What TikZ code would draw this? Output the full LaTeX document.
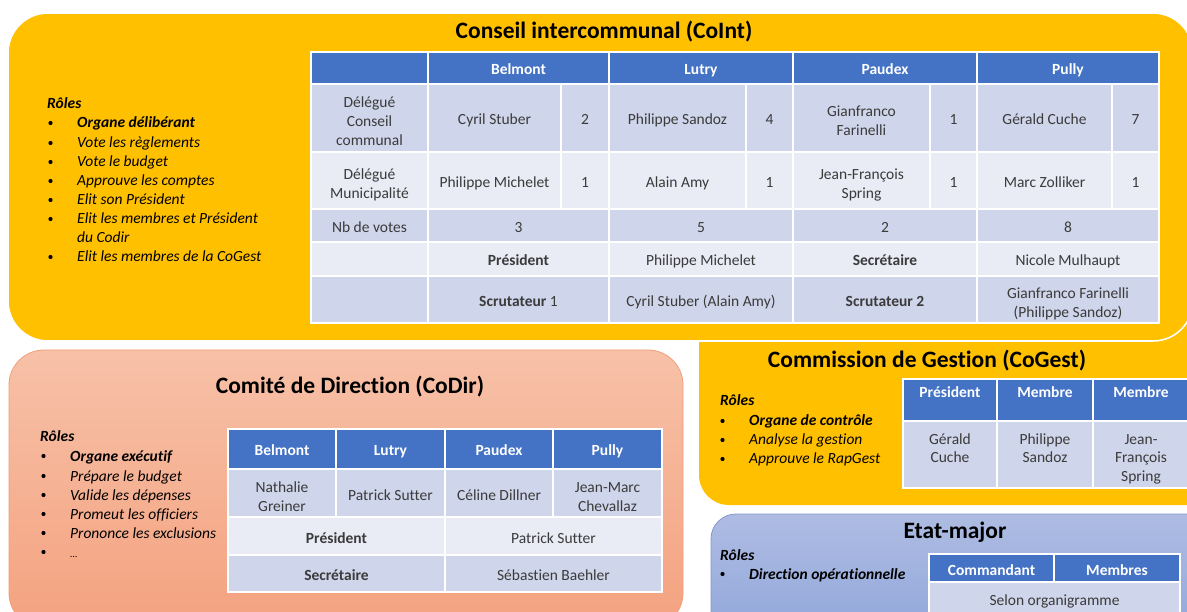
\documentclass[tikz,border=0pt]{standalone}
\usepackage{fontspec}
\setmainfont{Carlito}[Ligatures=NoCommon]
\definecolor{cyel}{HTML}{FFC000}
\definecolor{hblue}{HTML}{4472C4}
\definecolor{dkrow}{HTML}{CFD5EA}
\definecolor{ltrow}{HTML}{E9EBF5}
\definecolor{cdtop}{HTML}{F7C1A8}
\definecolor{cdbot}{HTML}{F4A27F}
\definecolor{cddraw}{HTML}{F19E78}
\definecolor{emtop}{HTML}{AEBCE3}
\definecolor{embot}{HTML}{8EA5D9}
\definecolor{emdraw}{HTML}{8497CF}
\definecolor{tgray}{HTML}{3B3B3B}
\newcommand{\cstrut}{\rule[-3pt]{0pt}{20pt}}
\newcommand{\mlbeg}{\rule{0pt}{20pt}}
\tikzset{
  cellbase/.style={draw=white, line width=1.5pt, inner sep=0pt, outer sep=0pt, align=center, text=tgray, font=\fontsize{15.5}{19}\selectfont, execute at begin node=\cstrut, execute at end node=\cstrut},
  hd/.style={cellbase, fill=hblue, text=white, font=\bfseries\fontsize{15.5}{19}\selectfont},
  hdtop/.style={hd, text height=19pt, text depth=23pt, execute at begin node={}, execute at end node={}},
  dk/.style={cellbase, fill=dkrow},
  lt/.style={cellbase, fill=ltrow},
  boxtitle/.style={font=\bfseries\fontsize{23.5}{28}\selectfont, text=black, inner sep=0pt},
  roletxt/.style={anchor=base west, inner sep=0pt, font=\itshape\fontsize{15.5}{19}\selectfont, text=black},
  rolehead/.style={roletxt, font=\bfseries\itshape\fontsize{15.5}{19}\selectfont},
  bul/.style={circle, fill=black, inner sep=0pt, minimum size=4.2pt},
  yelbox/.style={fill=cyel, rounded corners=40pt},
  cdbox/.style={top color=cdtop, bottom color=cdbot, draw=cddraw, line width=0.8pt, rounded corners=35pt},
  embox/.style={top color=emtop, bottom color=embot, draw=emdraw, line width=0.8pt, rounded corners=25pt},
}
% cell: style, x1, y1, x2, y2, name, text
\newcommand{\cel}[7]{\node[#1, minimum width={(#4)-(#2)}, minimum height={(#5)-(#3)}, anchor=north west] (#6) at (#2,#3) {#7};}
% role line: name, xbullet, xtext, baseline y, style, text
\newcommand{\rl}[6]{\node[bul] (#1b) at ({#2+1.5},{#4-5}) {};\node[#5] (#1) at (#3,#4) {#6};}
\begin{document}
\begin{tikzpicture}[x=1pt, y=-1pt]
\useasboundingbox (0,0) rectangle (1187,612);
\clip (0,0) rectangle (1187,612);
\fill[white] (0,0) rectangle (1187,612);

% ---------- boxes ----------
\path[yelbox, rounded corners=30pt] (699,290) rectangle (1230,505);
\path[yelbox, draw=white, line width=1.6pt] (8,13) rectangle (1193,341);
\path[cdbox] (9,350) rectangle (683,628);
\path[embox] (711,514) rectangle (1215,650);

% ---------- Conseil intercommunal ----------
\node[boxtitle] (t1) at (604,32) {Conseil intercommunal (CoInt)};

\node[rolehead] (r1h) at (47,109) {Rôles};
\rl{r1a}{49}{77}{128}{rolehead}{Organe délibérant}
\rl{r1b}{49}{77}{148}{roletxt}{Vote les règlements}
\rl{r1c}{49}{77}{167}{roletxt}{Vote le budget}
\rl{r1d}{49}{77}{186}{roletxt}{Approuve les comptes}
\rl{r1e}{49}{77}{205}{roletxt}{Elit son Président}
\rl{r1f}{49}{77}{224}{roletxt}{Elit les membres et Président}
\node[roletxt] (r1f2) at (77,243) {du Codir};
\rl{r1g}{49}{77}{262}{roletxt}{Elit les membres de la CoGest}

% header
\cel{hd}{311}{52}{428}{84}{h0}{}
\cel{hd}{428}{52}{609}{84}{h1}{Belmont}
\cel{hd}{609}{52}{793}{84}{h2}{Lutry}
\cel{hd}{793}{52}{977}{84}{h3}{Paudex}
\cel{hd}{977}{52}{1159}{84}{h4}{Pully}
% row 1
\cel{dk}{311}{84}{428}{152}{a0}{\mlbeg Délégué\\Conseil\\communal}
\cel{dk}{428}{84}{561}{152}{a1}{Cyril Stuber}
\cel{dk}{561}{84}{609}{152}{a1n}{2}
\cel{dk}{609}{84}{746}{152}{a2}{Philippe Sandoz}
\cel{dk}{746}{84}{793}{152}{a2n}{4}
\cel{dk}{793}{84}{930}{152}{a3}{\mlbeg Gianfranco\\Farinelli}
\cel{dk}{930}{84}{977}{152}{a3n}{1}
\cel{dk}{977}{84}{1112}{152}{a4}{Gérald Cuche}
\cel{dk}{1112}{84}{1159}{152}{a4n}{7}
% row 2
\cel{lt}{311}{152}{428}{209}{b0}{\mlbeg Délégué\\Municipalité}
\cel{lt}{428}{152}{561}{209}{b1}{Philippe Michelet}
\cel{lt}{561}{152}{609}{209}{b1n}{1}
\cel{lt}{609}{152}{746}{209}{b2}{Alain Amy}
\cel{lt}{746}{152}{793}{209}{b2n}{1}
\cel{lt}{793}{152}{930}{209}{b3}{\mlbeg Jean-François\\Spring}
\cel{lt}{930}{152}{977}{209}{b3n}{1}
\cel{lt}{977}{152}{1112}{209}{b4}{Marc Zolliker}
\cel{lt}{1112}{152}{1159}{209}{b4n}{1}
% row 3
\cel{dk}{311}{209}{428}{242}{c0}{Nb de votes}
\cel{dk}{428}{209}{609}{242}{c1}{3}
\cel{dk}{609}{209}{793}{242}{c2}{5}
\cel{dk}{793}{209}{977}{242}{c3}{2}
\cel{dk}{977}{209}{1159}{242}{c4}{8}
% row 4
\cel{lt}{311}{242}{428}{276}{d0}{}
\cel{lt}{428}{242}{609}{276}{d1}{\textbf{Président}}
\cel{lt}{609}{242}{793}{276}{d2}{Philippe Michelet}
\cel{lt}{793}{242}{977}{276}{d3}{\textbf{Secrétaire}}
\cel{lt}{977}{242}{1159}{276}{d4}{Nicole Mulhaupt}
% row 5
\cel{dk}{311}{276}{428}{323}{e0}{}
\cel{dk}{428}{276}{609}{323}{e1}{\textbf{Scrutateur} 1}
\cel{dk}{609}{276}{793}{323}{e2}{Cyril Stuber (Alain Amy)}
\cel{dk}{793}{276}{977}{323}{e3}{\textbf{Scrutateur 2}}
\cel{dk}{977}{276}{1159}{323}{e4}{\mlbeg Gianfranco Farinelli\\(Philippe Sandoz)}

% ---------- Comité de Direction ----------
\node[boxtitle] (t2) at (350,387) {Comité de Direction (CoDir)};
\node[rolehead] (r2h) at (40,442) {Rôles};
\rl{r2a}{42}{70}{461}{rolehead}{Organe exécutif}
\rl{r2b}{42}{70}{481}{roletxt}{Prépare le budget}
\rl{r2c}{42}{70}{500}{roletxt}{Valide les dépenses}
\rl{r2d}{42}{70}{519}{roletxt}{Promeut les officiers}
\rl{r2e}{42}{70}{538}{roletxt}{Prononce les exclusions}
\rl{r2f}{42}{70}{557}{roletxt}{\fontsize{10}{12}\selectfont ...}

\cel{hd}{228}{429}{336}{469}{g1}{Belmont}
\cel{hd}{336}{429}{445}{469}{g2}{Lutry}
\cel{hd}{445}{429}{553}{469}{g3}{Paudex}
\cel{hd}{553}{429}{662}{469}{g4}{Pully}
\cel{dk}{228}{469}{336}{517}{k1}{\mlbeg Nathalie\\Greiner}
\cel{dk}{336}{469}{445}{517}{k2}{Patrick Sutter}
\cel{dk}{445}{469}{553}{517}{k3}{Céline Dillner}
\cel{dk}{553}{469}{662}{517}{k4}{\mlbeg Jean-Marc\\Chevallaz}
\cel{lt}{228}{517}{445}{555}{m1}{\textbf{Président}}
\cel{lt}{445}{517}{662}{555}{m2}{Patrick Sutter}
\cel{dk}{228}{555}{445}{592}{n1}{\textbf{Secrétaire}}
\cel{dk}{445}{555}{662}{592}{n2}{Sébastien Baehler}

% ---------- Commission de Gestion ----------
\node[boxtitle] (t3) at (927,361) {Commission de Gestion (CoGest)};
\node[rolehead] (r3h) at (720,406) {Rôles};
\rl{r3a}{721}{749}{426}{rolehead}{Organe de contrôle}
\rl{r3b}{721}{749}{445}{roletxt}{Analyse la gestion}
\rl{r3c}{721}{749}{464}{roletxt}{Approuve le RapGest}

\cel{hdtop}{903}{379}{997}{421}{p1}{Président}
\cel{hdtop}{997}{379}{1093}{421}{p2}{Membre}
\cel{hdtop}{1093}{379}{1189}{421}{p3}{Membre}
\cel{dk}{903}{421}{997}{488}{q1}{\mlbeg Gérald\\Cuche\\}
\cel{dk}{997}{421}{1093}{488}{q2}{\mlbeg Philippe\\Sandoz\\}
\cel{dk}{1093}{421}{1189}{488}{q3}{\mlbeg Jean-\\François\\Spring}

% ---------- Etat-major ----------
\node[boxtitle] (t4) at (955,532) {Etat-major};
\node[rolehead] (r4h) at (720,560) {Rôles};
\rl{r4a}{721}{749}{579}{rolehead}{Direction opérationnelle}
\cel{hd}{929}{554}{1054}{582}{s1}{Commandant}
\cel{hd}{1054}{554}{1180}{582}{s2}{Membres}
\cel{dk}{929}{582}{1180}{614}{s3}{Selon organigramme}
\end{tikzpicture}
\end{document}
